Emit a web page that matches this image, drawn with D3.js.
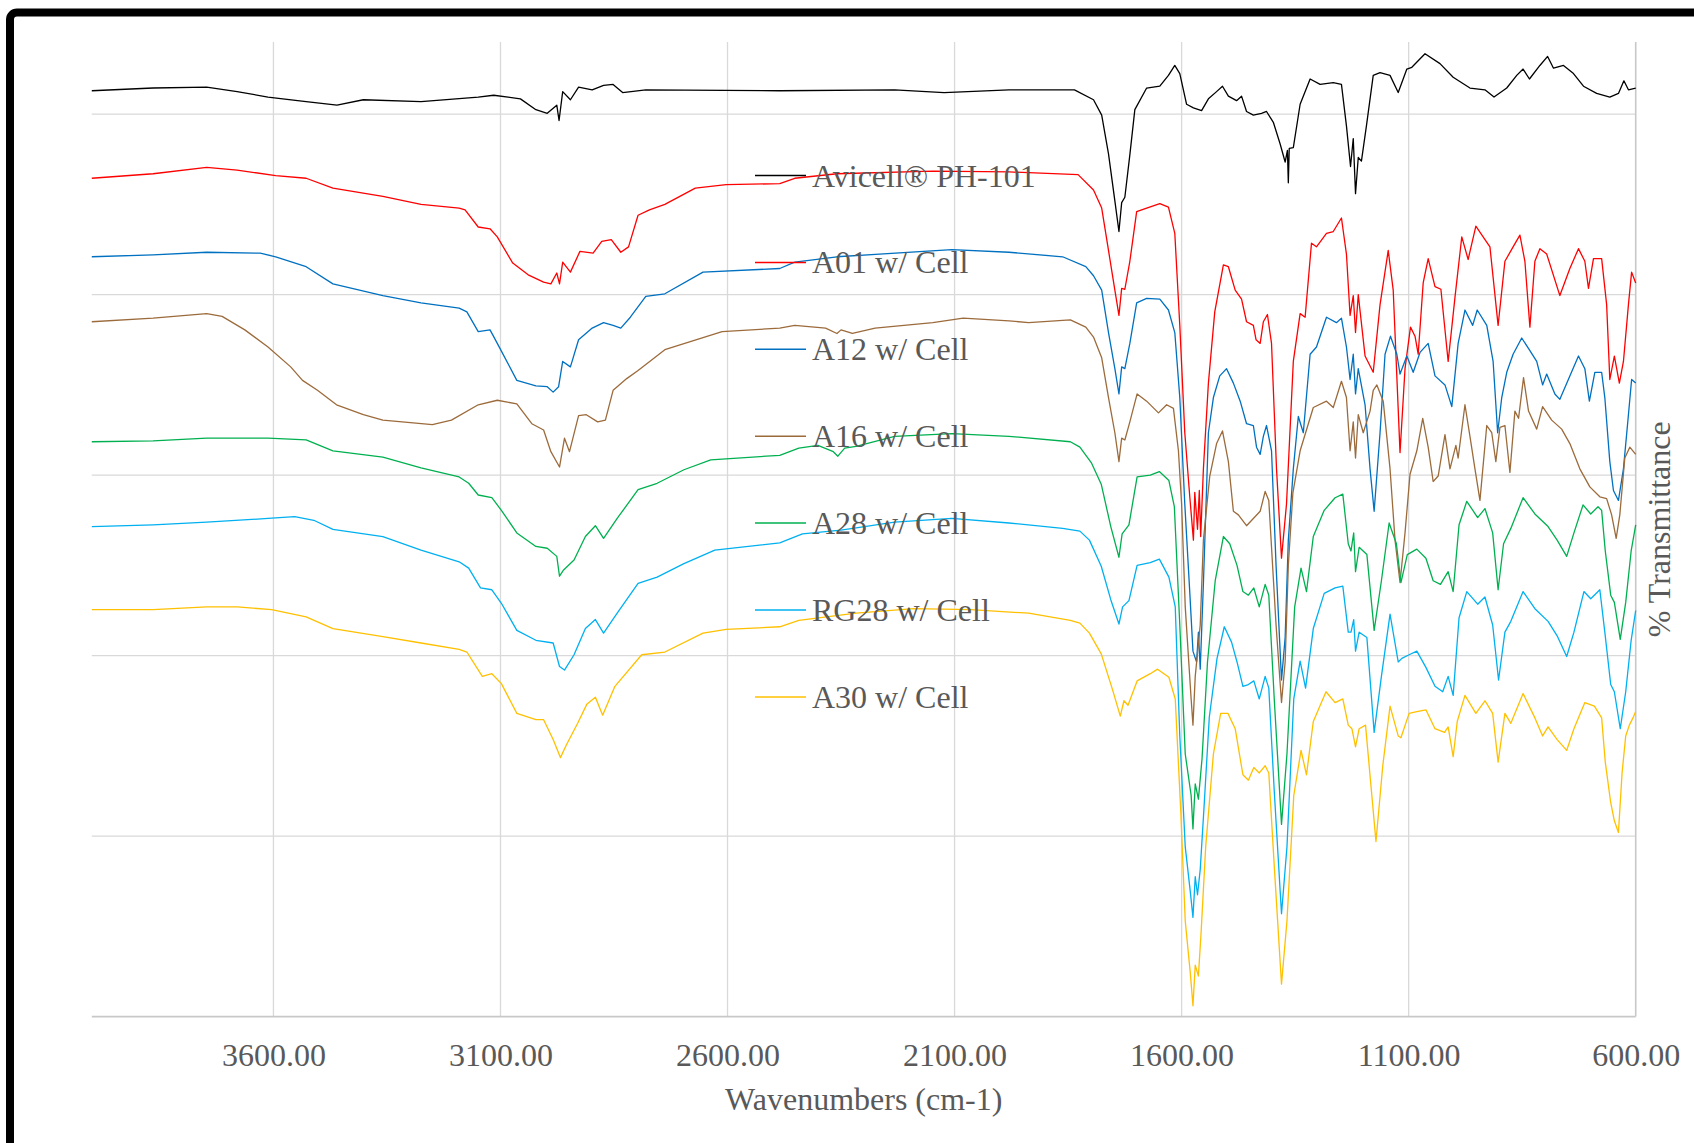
<!DOCTYPE html>
<html>
<head>
<meta charset="utf-8">
<script src="https://cdn.jsdelivr.net/npm/d3@7"></script>
<style>
  html, body { margin: 0; padding: 0; background: #fff; overflow: hidden; }
  svg { display: block; }
  text { font-family: "Liberation Serif", "Times New Roman", serif; fill: #595959; }
</style>
</head>
<body>
<svg id="chart" width="1694" height="1143"></svg>
<script>
// series labels and colours, in legend order
const seriesNames = [
  "Avicell® PH-101",
  "A01 w/ Cell",
  "A12 w/ Cell",
  "A16 w/ Cell",
  "A28 w/ Cell",
  "RG28 w/ Cell",
  "A30 w/ Cell"
];
const seriesColors = ["#000000", "#ff0000", "#0070c0", "#9c6b3c", "#00b050", "#00b0f0", "#ffc000"];

// [wavenumber cm-1, % transmittance (offset traces)]
const avicellData = [
  [4000,102.6],[3865,102.9],[3747,103.0],[3680,102.5],[3612,101.9],[3528,101.4],[3460,101.0],[3402,101.6],
  [3275,101.4],[3149,101.9],[3115,102.1],[3056,101.7],[3022,100.5],[2997,100.1],[2976,101.0],[2971,99.3],
  [2963,102.5],[2946,101.6],[2928,103.0],[2898,102.7],[2873,103.2],[2852,103.3],[2831,102.4],[2780,102.7],
  [2485,102.6],[2232,102.7],[2123,102.4],[1980,102.7],[1836,102.7],[1794,101.6],[1776,99.9],[1761,95.6],
  [1747,90.4],[1738,87.0],[1732,90.2],[1725,90.8],[1714,95.5],[1703,100.5],[1677,102.9],[1648,103.1],
  [1629,104.3],[1615,105.4],[1604,104.5],[1589,101.1],[1574,100.7],[1556,100.4],[1541,101.7],[1523,102.5],
  [1510,103.1],[1497,102.0],[1479,101.5],[1468,102.0],[1457,100.3],[1442,99.9],[1424,100.1],[1413,100.3],
  [1398,99.1],[1383,96.7],[1372,94.7],[1367,96.0],[1365,92.4],[1363,96.2],[1354,96.3],[1339,101.1],
  [1317,103.9],[1295,103.3],[1266,103.5],[1248,103.3],[1237,98.7],[1228,94.2],[1222,97.3],[1217,91.2],
  [1211,95.2],[1204,94.8],[1193,98.7],[1178,104.3],[1163,104.6],[1141,104.3],[1123,102.4],[1104,105.0],
  [1093,105.2],[1064,106.7],[1031,105.6],[1002,104.1],[965,102.9],[932,102.7],[912,101.9],[884,102.9],
  [862,104.3],[848,105.0],[834,103.9],[811,105.4],[794,106.4],[781,105.1],[759,105.4],[737,104.5],
  [715,103.1],[686,102.3],[657,101.9],[638,102.3],[626,103.7],[616,102.7],[600,102.9]
];
const a01Data = [
  [4000,92.9],[3865,93.4],[3747,94.1],[3680,93.8],[3595,93.2],[3528,92.9],[3469,91.8],[3359,90.9],
  [3275,90.0],[3191,89.6],[3178,89.4],[3149,87.5],[3123,87.3],[3107,86.4],[3073,83.5],[3039,82.2],
  [3005,81.4],[2989,81.2],[2976,82.4],[2970,81.2],[2963,83.6],[2946,82.5],[2925,84.8],[2896,84.6],
  [2877,85.9],[2856,86.1],[2835,84.7],[2818,85.3],[2797,88.8],[2772,89.4],[2738,90.0],[2671,91.8],
  [2603,92.2],[2485,92.3],[2452,92.9],[2359,93.4],[2148,93.7],[1980,93.6],[1828,93.3],[1794,91.6],
  [1776,89.6],[1761,84.9],[1747,80.5],[1738,77.7],[1732,80.7],[1725,80.6],[1714,83.7],[1699,89.2],
  [1677,89.6],[1648,90.1],[1629,89.7],[1615,86.8],[1604,76.6],[1593,64.7],[1582,57.6],[1574,52.8],
  [1571,58.1],[1565,54.0],[1561,58.3],[1558,53.2],[1552,60.7],[1541,70.2],[1527,78.1],[1508,83.3],
  [1497,83.1],[1482,80.5],[1468,79.5],[1457,77.0],[1442,76.6],[1436,75.0],[1427,74.6],[1420,77.0],
  [1411,77.8],[1402,74.6],[1391,60.7],[1380,50.8],[1369,56.8],[1354,72.6],[1339,77.9],[1328,77.5],
  [1314,85.7],[1303,85.3],[1281,86.8],[1266,87.0],[1248,88.5],[1237,84.5],[1229,77.7],[1222,79.9],
  [1217,75.8],[1211,80.0],[1196,73.2],[1178,71.4],[1163,78.9],[1145,84.9],[1134,80.5],[1119,62.5],
  [1108,71.8],[1096,76.4],[1086,75.4],[1079,73.4],[1068,81.3],[1057,84.0],[1042,80.9],[1029,80.6],
  [1013,72.6],[998,79.7],[983,86.4],[969,83.9],[952,87.6],[936,86.4],[921,85.3],[903,76.6],
  [888,83.7],[870,85.3],[855,86.6],[844,83.7],[833,76.4],[822,83.7],[811,85.1],[796,84.5],
  [767,79.9],[745,82.9],[726,85.1],[712,83.7],[704,80.7],[693,84.0],[675,84.0],[664,78.9],
  [657,70.6],[647,73.2],[636,70.2],[627,72.6],[616,78.9],[609,82.5],[600,81.3]
];
const a12Data = [
  [4000,84.2],[3865,84.4],[3747,84.7],[3629,84.6],[3595,84.2],[3528,83.1],[3469,81.2],[3359,79.9],
  [3275,79.1],[3191,78.5],[3174,78.1],[3149,75.9],[3123,76.1],[3107,74.6],[3064,70.5],[3022,69.9],
  [2997,69.8],[2984,69.2],[2972,69.8],[2963,72.6],[2946,72.0],[2928,75.0],[2898,76.3],[2873,76.9],
  [2852,76.6],[2835,76.3],[2814,77.5],[2780,79.8],[2738,80.1],[2654,82.5],[2485,82.9],[2452,83.6],
  [2359,84.2],[2106,85.0],[1980,84.7],[1862,84.2],[1811,83.1],[1794,82.1],[1776,80.5],[1761,75.8],
  [1747,71.8],[1738,69.0],[1732,72.0],[1725,71.8],[1714,74.6],[1699,79.1],[1677,79.6],[1648,79.5],
  [1629,78.3],[1615,75.8],[1604,68.6],[1593,56.8],[1582,47.0],[1575,40.5],[1567,39.3],[1563,42.6],
  [1559,38.5],[1552,48.0],[1541,64.7],[1530,68.6],[1516,71.0],[1501,71.8],[1486,70.2],[1471,68.2],
  [1457,65.7],[1442,65.5],[1435,63.1],[1427,62.3],[1420,64.3],[1413,65.5],[1402,62.7],[1392,50.0],
  [1380,37.3],[1372,42.0],[1365,52.8],[1354,60.7],[1343,66.5],[1332,64.7],[1317,73.4],[1303,74.2],
  [1281,77.5],[1259,76.9],[1248,77.4],[1237,74.2],[1229,70.6],[1222,73.4],[1217,69.0],[1211,71.8],
  [1196,67.8],[1185,60.7],[1176,56.0],[1163,64.7],[1152,73.4],[1140,75.4],[1126,73.4],[1119,71.2],
  [1104,73.2],[1090,71.4],[1075,73.6],[1057,74.6],[1042,71.0],[1020,70.0],[1005,67.6],[991,74.6],
  [976,78.3],[959,76.6],[949,78.3],[928,76.6],[914,72.6],[904,64.7],[895,68.6],[884,71.4],
  [870,73.4],[851,75.2],[833,73.8],[818,72.6],[805,70.0],[796,71.2],[778,69.0],[767,68.4],
  [745,71.0],[726,73.2],[712,71.8],[702,68.2],[690,71.4],[675,71.4],[668,68.6],[657,61.5],
  [649,58.3],[638,57.2],[627,60.7],[616,66.7],[609,70.6],[600,70.2]
];
const a16Data = [
  [4000,77.0],[3865,77.4],[3747,77.9],[3713,77.6],[3663,76.1],[3612,74.2],[3562,72.0],[3536,70.5],
  [3503,69.4],[3461,67.8],[3402,66.7],[3359,66.1],[3250,65.6],[3208,66.1],[3149,67.8],[3107,68.3],
  [3064,67.9],[3031,65.7],[3005,65.0],[2989,62.6],[2970,60.9],[2959,64.1],[2948,62.6],[2928,66.6],
  [2911,66.7],[2886,65.9],[2869,66.1],[2852,69.4],[2843,69.8],[2822,70.7],[2797,71.6],[2738,73.9],
  [2612,75.9],[2485,76.3],[2452,76.6],[2384,76.3],[2359,75.7],[2350,76.1],[2325,75.7],[2275,76.3],
  [2148,76.9],[2081,77.4],[1980,77.1],[1937,76.9],[1845,77.2],[1811,76.4],[1794,75.3],[1776,73.0],
  [1761,68.6],[1747,64.7],[1738,61.5],[1732,64.1],[1725,63.9],[1714,65.9],[1698,69.0],[1677,68.2],
  [1651,66.9],[1633,67.8],[1618,67.4],[1607,62.7],[1600,56.8],[1592,45.4],[1579,35.2],[1575,32.3],
  [1570,37.7],[1559,43.4],[1552,52.8],[1538,59.9],[1523,63.5],[1510,64.9],[1497,61.5],[1486,56.0],
  [1475,55.6],[1457,54.4],[1442,55.2],[1427,56.0],[1416,58.2],[1408,57.2],[1392,43.4],[1380,34.8],
  [1372,39.3],[1365,50.0],[1355,58.0],[1339,62.7],[1310,67.5],[1281,68.2],[1266,67.5],[1248,70.4],
  [1237,68.6],[1229,62.7],[1222,65.9],[1217,61.9],[1211,66.7],[1200,64.7],[1185,67.1],[1178,69.4],
  [1170,70.0],[1156,68.2],[1141,60.7],[1130,52.8],[1119,48.1],[1108,53.6],[1097,60.1],[1082,62.7],
  [1069,66.3],[1057,63.1],[1046,59.3],[1035,59.9],[1020,64.5],[1009,60.7],[996,63.3],[991,61.9],
  [976,67.8],[965,64.3],[954,60.7],[943,57.2],[928,65.5],[917,64.7],[908,61.5],[899,65.3],
  [888,65.5],[877,60.3],[866,67.1],[858,66.3],[847,70.8],[836,67.1],[818,65.1],[805,67.6],
  [785,66.1],[763,65.1],[745,63.5],[723,60.7],[701,58.7],[679,57.6],[664,57.4],[653,55.6],
  [643,53.0],[635,55.6],[624,61.9],[613,63.1],[600,62.3]
];
const a28Data = [
  [4000,63.7],[3865,63.8],[3747,64.1],[3612,64.1],[3528,63.9],[3469,62.7],[3359,62.0],[3275,60.8],
  [3191,59.8],[3170,59.1],[3149,57.8],[3119,57.5],[3098,56.1],[3064,53.6],[3022,52.1],[2997,51.9],
  [2976,51.0],[2970,48.8],[2961,49.5],[2938,50.6],[2913,53.2],[2891,54.4],[2873,53.0],[2843,55.2],
  [2797,58.4],[2755,59.1],[2696,60.6],[2637,61.7],[2485,62.2],[2443,63.0],[2401,63.3],[2367,62.6],
  [2357,62.1],[2342,63.0],[2317,63.2],[2232,64.3],[2106,64.6],[1980,64.3],[1845,63.7],[1824,63.1],
  [1799,61.4],[1777,59.0],[1756,54.3],[1738,50.9],[1731,53.5],[1716,54.5],[1698,59.8],[1669,60.0],
  [1649,60.4],[1628,59.4],[1616,56.5],[1604,43.4],[1592,29.1],[1579,24.5],[1575,20.8],[1570,25.8],
  [1563,24.1],[1555,28.6],[1543,39.3],[1526,48.3],[1508,53.2],[1494,52.4],[1478,50.0],[1465,47.1],
  [1453,46.7],[1441,47.5],[1429,45.4],[1416,47.9],[1408,46.7],[1396,35.2],[1380,21.3],[1368,29.1],
  [1351,45.4],[1337,49.7],[1325,47.1],[1310,53.2],[1286,56.1],[1262,57.5],[1245,57.9],[1233,52.4],
  [1227,51.6],[1221,53.6],[1217,49.3],[1209,52.0],[1192,51.2],[1176,42.8],[1160,48.3],[1143,54.7],
  [1127,52.4],[1117,48.1],[1103,51.2],[1082,51.8],[1062,50.8],[1046,48.3],[1030,47.9],[1013,49.3],
  [1002,47.1],[989,54.5],[972,57.1],[948,55.3],[932,56.3],[915,53.6],[903,47.3],[891,52.4],
  [875,54.1],[848,57.5],[822,55.7],[793,54.3],[773,52.8],[752,51.0],[736,53.6],[716,56.7],
  [699,55.7],[683,56.5],[675,56.1],[667,51.6],[655,46.7],[647,45.9],[634,41.8],[622,45.9],
  [610,51.6],[600,54.5]
];
const rg28Data = [
  [4000,54.3],[3865,54.5],[3747,54.8],[3612,55.2],[3553,55.4],[3511,55.0],[3469,54.0],[3359,53.2],
  [3275,51.7],[3191,50.4],[3170,49.7],[3144,47.5],[3119,47.3],[3098,45.8],[3064,42.8],[3022,41.7],
  [2984,41.4],[2970,38.8],[2959,38.4],[2938,40.1],[2913,43.0],[2891,44.0],[2873,42.5],[2843,44.7],
  [2797,48.0],[2755,48.7],[2696,50.2],[2628,51.7],[2485,52.5],[2435,53.5],[2350,53.9],[2232,54.8],
  [2106,55.2],[1980,54.7],[1862,54.1],[1824,53.8],[1803,52.8],[1777,49.9],[1756,46.2],[1738,43.5],
  [1730,45.4],[1716,46.1],[1698,50.0],[1669,50.3],[1649,50.7],[1628,48.7],[1614,45.4],[1604,31.1],
  [1592,18.8],[1581,13.9],[1575,11.0],[1570,15.5],[1565,13.5],[1559,16.3],[1551,22.9],[1539,33.2],
  [1522,39.7],[1506,43.2],[1490,41.5],[1478,39.3],[1465,36.6],[1453,36.8],[1441,37.2],[1429,35.2],
  [1416,37.7],[1408,36.4],[1396,25.0],[1380,11.4],[1368,18.8],[1353,35.2],[1339,39.4],[1327,36.4],
  [1310,43.0],[1286,46.9],[1262,47.5],[1245,47.7],[1233,42.6],[1227,42.6],[1221,44.0],[1217,40.5],
  [1209,42.6],[1192,42.0],[1176,31.5],[1160,37.7],[1141,44.6],[1123,39.3],[1115,39.7],[1099,40.1],
  [1082,40.5],[1062,38.7],[1042,36.6],[1025,36.0],[1013,37.7],[1002,35.6],[989,44.2],[972,47.1],
  [948,45.7],[932,46.5],[915,43.4],[902,37.3],[888,42.6],[875,43.8],[848,47.1],[822,45.2],
  [793,43.8],[773,42.2],[752,39.9],[736,42.6],[714,47.1],[699,46.3],[679,47.3],[668,42.6],
  [655,36.8],[647,36.0],[634,31.9],[622,36.0],[610,41.7],[600,45.0]
];
const a30Data = [
  [4000,45.1],[3865,45.1],[3747,45.4],[3680,45.4],[3604,45.1],[3528,44.3],[3469,43.0],[3359,42.1],
  [3275,41.4],[3191,40.7],[3174,40.4],[3140,37.7],[3119,38.0],[3098,36.9],[3064,33.6],[3022,32.9],
  [3005,32.9],[2984,30.7],[2968,28.7],[2955,30.1],[2930,32.5],[2910,34.6],[2891,35.4],[2875,33.4],
  [2848,36.6],[2789,40.1],[2738,40.4],[2654,42.5],[2603,42.9],[2485,43.2],[2443,43.9],[2317,44.7],
  [2190,45.2],[2064,45.1],[1937,44.7],[1845,43.9],[1824,43.6],[1803,42.5],[1777,40.2],[1752,36.2],
  [1735,33.3],[1727,35.0],[1718,34.5],[1698,37.2],[1669,38.0],[1653,38.5],[1628,37.6],[1614,35.2],
  [1602,22.9],[1592,10.6],[1581,4.9],[1575,1.2],[1570,5.7],[1563,4.5],[1557,9.4],[1547,18.8],
  [1530,29.1],[1514,33.6],[1498,33.6],[1482,31.9],[1465,26.8],[1453,26.2],[1441,27.6],[1429,27.0],
  [1416,27.8],[1408,27.0],[1396,16.7],[1380,3.6],[1368,10.6],[1353,24.5],[1337,29.5],[1325,26.8],
  [1310,32.7],[1282,36.0],[1262,34.8],[1245,35.2],[1233,32.3],[1225,31.9],[1217,29.9],[1209,31.9],
  [1195,32.3],[1172,19.4],[1157,27.8],[1141,34.4],[1123,31.1],[1117,30.9],[1099,33.6],[1082,33.8],
  [1062,34.0],[1042,31.9],[1021,31.5],[1013,32.1],[1002,28.8],[993,32.7],[976,35.6],[952,33.6],
  [932,35.0],[915,33.6],[903,28.2],[888,33.6],[875,32.5],[848,35.8],[822,33.1],[805,31.1],
  [793,32.1],[773,30.7],[752,29.5],[736,31.9],[712,34.8],[691,34.4],[675,33.1],[667,28.2],
  [655,23.7],[647,21.7],[638,20.4],[630,27.0],[622,31.1],[614,32.3],[606,33.1],[600,33.8]
];

const xTickValues = [3600, 3100, 2600, 2100, 1600, 1100, 600];
const yGridValues = [20, 40, 60, 80, 100];

const allSeries = [avicellData, a01Data, a12Data, a16Data, a28Data, rg28Data, a30Data];

const svg = d3.select("#chart");

const x = d3.scaleLinear().domain([4000, 600]).range([91.8, 1635.7]);
const y = d3.scaleLinear().domain([0, 108]).range([1016.6, 42]);

// outer chart frame, only its top-left corner is in view
svg.append("rect")
  .attr("x", 10)
  .attr("y", 12.5)
  .attr("width", 1800)
  .attr("height", 1400)
  .attr("rx", 7)
  .attr("fill", "none")
  .attr("stroke", "#000")
  .attr("stroke-width", 8);

// gridlines
svg.append("g")
  .selectAll("line")
  .data(yGridValues)
  .enter()
  .append("line")
  .attr("x1", x(4000))
  .attr("x2", x(600))
  .attr("y1", (d) => y(d))
  .attr("y2", (d) => y(d))
  .attr("stroke", "#d9d9d9")
  .attr("stroke-width", 1.3);

svg.append("g")
  .selectAll("line")
  .data(xTickValues.filter((d) => d !== 600))
  .enter()
  .append("line")
  .attr("x1", (d) => x(d))
  .attr("x2", (d) => x(d))
  .attr("y1", y(108))
  .attr("y2", y(0))
  .attr("stroke", "#d9d9d9")
  .attr("stroke-width", 1.3);

// axis lines (bottom and the value axis on the right, since x runs reversed)
svg.append("line")
  .attr("x1", x(4000)).attr("x2", x(600))
  .attr("y1", y(0)).attr("y2", y(0))
  .attr("stroke", "#c8c8c8").attr("stroke-width", 1.6);
svg.append("line")
  .attr("x1", x(600)).attr("x2", x(600))
  .attr("y1", y(108)).attr("y2", y(0))
  .attr("stroke", "#c8c8c8").attr("stroke-width", 1.6);

const xAxis = svg.append("g")
  .attr("transform", `translate(0, ${y(0)})`)
  .call(d3.axisBottom(x).tickValues(xTickValues).tickFormat(d3.format(".2f")).tickSize(0).tickPadding(27));
xAxis.select(".domain").remove();
xAxis.selectAll("text")
  .attr("font-family", "Liberation Serif, Times New Roman, serif")
  .attr("font-size", 32)
  .attr("fill", "#595959");

// spectra
const line = d3.line()
  .x((d) => x(d[0]))
  .y((d) => y(d[1]));

svg.append("g")
  .selectAll("path")
  .data(allSeries)
  .enter()
  .append("path")
  .attr("d", (d) => line(d))
  .attr("fill", "none")
  .attr("stroke", (d, i) => seriesColors[i])
  .attr("stroke-width", 1.3)
  .attr("stroke-linejoin", "round");

// axis titles
svg.append("text")
  .attr("x", (x(4000) + x(600)) / 2)
  .attr("y", 1110)
  .attr("text-anchor", "middle")
  .attr("font-size", 32)
  .text("Wavenumbers (cm-1)");

svg.append("text")
  .attr("transform", `translate(1670, ${(y(108) + y(0)) / 2}) rotate(-90)`)
  .attr("text-anchor", "middle")
  .attr("font-size", 32)
  .text("% Transmittance");

// legend, sitting over the plot
const legend = svg.append("g")
  .selectAll("g")
  .data(seriesNames)
  .enter()
  .append("g")
  .attr("transform", (d, i) => `translate(755, ${175.5 + i * 86.9})`);
legend.append("line")
  .attr("x1", 0)
  .attr("x2", 51)
  .attr("stroke", (d, i) => seriesColors[i])
  .attr("stroke-width", 1.5);
legend.append("text")
  .attr("x", 57)
  .attr("y", 11)
  .attr("font-size", 32)
  .text((d) => d);
</script>
</body>
</html>
